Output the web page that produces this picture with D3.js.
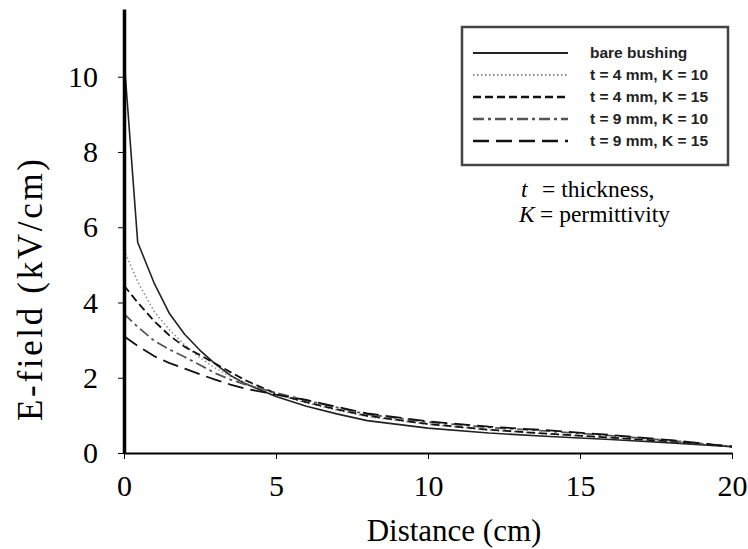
<!DOCTYPE html>
<html lang="en">
    <head>
        <meta charset="utf-8">
        <title>E-field vs distance</title>
        <script src="https://d3js.org/d3.v7.min.js"></script>
        <style type="text/css">
            body { margin: 0; background: #fff; }
            .axis text { font-family: "Liberation Serif", "Times New Roman", serif; font-size: 30px; fill: #000; }
            .axis path, .axis line { stroke: #000; }
            .title { font-family: "Liberation Serif", "Times New Roman", serif; font-size: 31px; }
            .note { font-family: "Liberation Serif", "Times New Roman", serif; font-size: 23.5px; }
            .legend text { font-family: "Liberation Sans", Arial, sans-serif; font-size: 15.5px; font-weight: bold; fill: #222; }
        </style>
    </head>
    <body>
        <script type="text/javascript">

            const w = 748;
            const h = 549;

            // distance (cm)
            const distance = [0, 0.45, 1, 1.5, 2, 2.5, 3, 3.5, 4, 5, 6, 7, 8, 10, 12, 14, 16, 18, 20];

            // E-field (kV/cm) per case
            const bare     = [10.5, 5.6, 4.5, 3.7, 3.15, 2.73, 2.37, 2.06, 1.84, 1.5, 1.24, 1.04, 0.86, 0.66, 0.53, 0.44, 0.36, 0.27, 0.17];
            const t4k10    = [5.4, 4.55, 3.75, 3.27, 2.87, 2.53, 2.26, 2.04, 1.86, 1.56, 1.33, 1.14, 0.97, 0.76, 0.61, 0.5, 0.4, 0.3, 0.17];
            const t4k15    = [4.45, 4.0, 3.5, 3.12, 2.82, 2.6, 2.38, 2.15, 1.93, 1.58, 1.35, 1.16, 0.99, 0.77, 0.62, 0.51, 0.41, 0.31, 0.17];
            const t9k10    = [3.7, 3.35, 2.98, 2.75, 2.55, 2.34, 2.12, 1.95, 1.82, 1.6, 1.4, 1.21, 1.03, 0.82, 0.68, 0.58, 0.46, 0.33, 0.17];
            const t9k15    = [3.1, 2.85, 2.57, 2.39, 2.24, 2.09, 1.95, 1.82, 1.71, 1.55, 1.41, 1.23, 1.05, 0.84, 0.7, 0.6, 0.48, 0.34, 0.17];

            const labels = ["bare bushing", "t = 4 mm, K = 10", "t = 4 mm, K = 15", "t = 9 mm, K = 10", "t = 9 mm, K = 15"];
            const xTicks = [0, 5, 10, 15, 20];
            const yTicks = [0, 2, 4, 6, 8, 10];

            const styles = [
                {stroke: "#222", width: 1.6, dash: null},
                {stroke: "#888", width: 1.5, dash: "1.5,2.5"},
                {stroke: "#111", width: 1.8, dash: "8,4"},
                {stroke: "#555", width: 1.8, dash: "11,4,3,4"},
                {stroke: "#111", width: 1.8, dash: "16,7"}
            ];

            const series = [bare, t4k10, t4k15, t9k10, t9k15].map((vals, i) => ({
                label: labels[i],
                style: styles[i],
                points: vals.map((v, j) => ({x: distance[j], y: v}))
            }));

            const xScale = d3.scaleLinear().domain([0, 20]).range([124, 732]);
            const yScale = d3.scaleLinear().domain([0, 11.8]).range([453, 9]);

            const svg = d3.select("body")
                          .append("svg")
                          .attr("width", w)
                          .attr("height", h);

            const line = d3.line()
                           .x(d => xScale(d.x))
                           .y(d => yScale(d.y));

            svg.selectAll("path.curve")
               .data(series)
               .enter()
               .append("path")
               .attr("class", "curve")
               .attr("fill", "none")
               .attr("stroke", d => d.style.stroke)
               .attr("stroke-width", d => d.style.width)
               .attr("stroke-linejoin", "round")
               .attr("stroke-dasharray", d => d.style.dash)
               .attr("d", d => line(d.points));

            const bottomAxis = d3.axisBottom(xScale)
                                 .tickValues(xTicks)
                                 .tickSizeInner(6)
                                 .tickSizeOuter(0)
                                 .tickPadding(16);

            const gx = svg.append("g")
                          .attr("class", "axis")
                          .attr("transform", "translate(0," + yScale(0) + ")")
                          .call(bottomAxis);
            gx.select(".domain").attr("stroke-width", 2);

            const leftAxis = d3.axisLeft(yScale)
                               .tickValues(yTicks)
                               .tickSizeInner(6)
                               .tickSizeOuter(0)
                               .tickPadding(20);

            const gy = svg.append("g")
                          .attr("class", "axis")
                          .attr("transform", "translate(" + xScale(0) + ",0)")
                          .call(leftAxis);
            gy.select(".domain").attr("stroke", "#777").attr("stroke-width", 3.5);

            svg.append("text")
               .attr("class", "title")
               .attr("x", 454)
               .attr("y", 541)
               .attr("text-anchor", "middle")
               .text("Distance (cm)");

            // the scanned y title runs longer than the x title
            svg.append("text")
               .attr("class", "title")
               .style("font-size", "35px")
               .attr("transform", "translate(42,290) rotate(-90)")
               .attr("text-anchor", "middle")
               .attr("textLength", 262)
               .attr("lengthAdjust", "spacing")
               .text("E-field (kV/cm)");

            // legend box
            const legend = svg.append("g").attr("class", "legend");
            legend.append("rect")
                  .attr("x", 462).attr("y", 27)
                  .attr("width", 266).attr("height", 138)
                  .attr("fill", "#fff")
                  .attr("stroke", "#444")
                  .attr("stroke-width", 2.5);

            const items = legend.selectAll("g.item")
                                .data(series)
                                .enter()
                                .append("g")
                                .attr("class", "item")
                                .attr("transform", (d, i) => `translate(0,${53 + i * 22})`);

            items.append("line")
                 .attr("x1", 473).attr("x2", 568)
                 .attr("y1", 0).attr("y2", 0)
                 .attr("stroke", d => d.style.stroke)
                 .attr("stroke-width", d => d.style.width + 0.6)
                 .attr("stroke-dasharray", d => d.style.dash);

            items.append("text")
                 .attr("x", 590)
                 .attr("dy", "0.35em")
                 .text(d => d.label);

            // annotation
            svg.append("text").attr("class", "note").attr("x", 521).attr("y", 197)
               .style("font-style", "italic").text("t");
            svg.append("text").attr("class", "note").attr("x", 542).attr("y", 197)
               .text("= thickness,");
            svg.append("text").attr("class", "note").attr("x", 519).attr("y", 222)
               .style("font-style", "italic").text("K");
            svg.append("text").attr("class", "note").attr("x", 540).attr("y", 222)
               .text("= permittivity");

        </script>
    </body>
</html>
